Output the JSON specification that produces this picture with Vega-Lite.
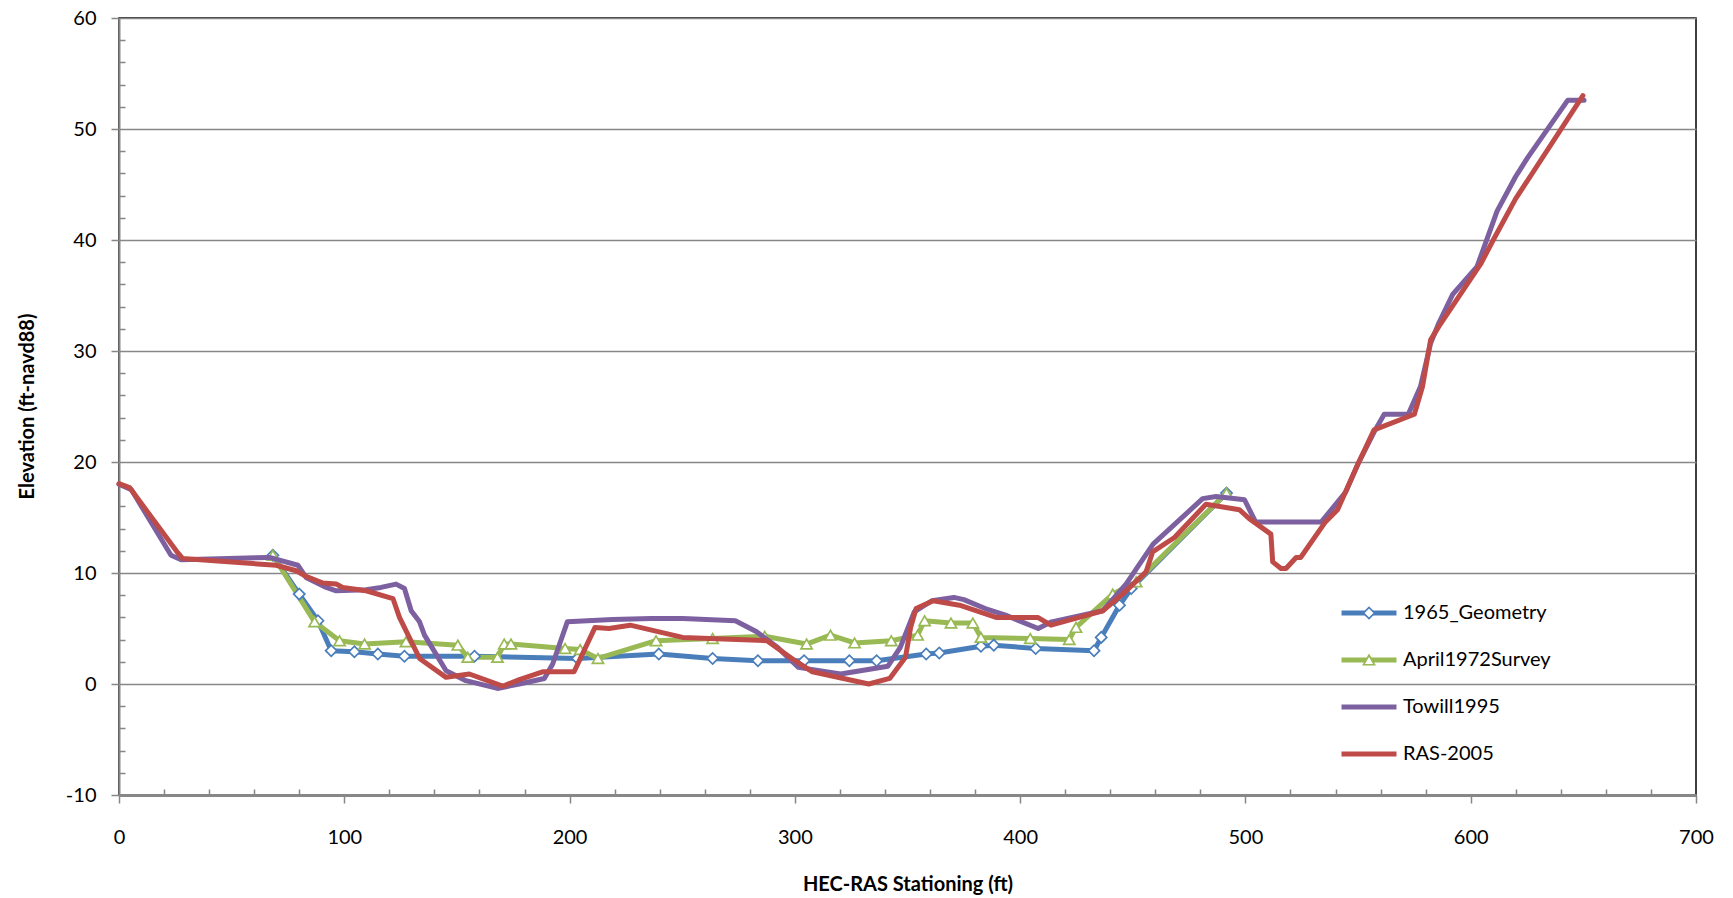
{
  "$schema": "https://vega.github.io/schema/vega-lite/v6.json",
  "width": 1577,
  "height": 777,
  "autosize": "none",
  "padding": {"left": 119, "top": 18, "right": 37, "bottom": 103},
  "config": {
    "view": {"stroke": "black", "strokeWidth": 1.5},
    "font": "Lato"
  },
  "data": {"values": [
    {"series":"1965_Geometry","station":68.3,"elevation":11.6},
    {"series":"1965_Geometry","station":80,"elevation":8.1},
    {"series":"1965_Geometry","station":88.3,"elevation":5.7},
    {"series":"1965_Geometry","station":94.2,"elevation":3.0},
    {"series":"1965_Geometry","station":104.5,"elevation":2.9},
    {"series":"1965_Geometry","station":114.9,"elevation":2.7},
    {"series":"1965_Geometry","station":126.7,"elevation":2.5},
    {"series":"1965_Geometry","station":157.8,"elevation":2.5},
    {"series":"1965_Geometry","station":203.5,"elevation":2.3},
    {"series":"1965_Geometry","station":239.6,"elevation":2.7},
    {"series":"1965_Geometry","station":263.5,"elevation":2.3},
    {"series":"1965_Geometry","station":283.6,"elevation":2.1},
    {"series":"1965_Geometry","station":304.1,"elevation":2.1},
    {"series":"1965_Geometry","station":324.2,"elevation":2.1},
    {"series":"1965_Geometry","station":336.3,"elevation":2.1},
    {"series":"1965_Geometry","station":358.3,"elevation":2.7},
    {"series":"1965_Geometry","station":364.1,"elevation":2.8},
    {"series":"1965_Geometry","station":382.6,"elevation":3.4},
    {"series":"1965_Geometry","station":388.3,"elevation":3.5},
    {"series":"1965_Geometry","station":406.9,"elevation":3.2},
    {"series":"1965_Geometry","station":432.8,"elevation":3.0},
    {"series":"1965_Geometry","station":436,"elevation":4.2},
    {"series":"1965_Geometry","station":444.1,"elevation":7.1},
    {"series":"1965_Geometry","station":449.3,"elevation":8.6},
    {"series":"1965_Geometry","station":491.6,"elevation":17.2},
    {"series":"April1972Survey","station":68.3,"elevation":11.6},
    {"series":"April1972Survey","station":86.8,"elevation":5.6},
    {"series":"April1972Survey","station":97.9,"elevation":3.9},
    {"series":"April1972Survey","station":109,"elevation":3.6},
    {"series":"April1972Survey","station":127.4,"elevation":3.8},
    {"series":"April1972Survey","station":150.4,"elevation":3.5},
    {"series":"April1972Survey","station":154.8,"elevation":2.4},
    {"series":"April1972Survey","station":168,"elevation":2.4},
    {"series":"April1972Survey","station":171,"elevation":3.6},
    {"series":"April1972Survey","station":174,"elevation":3.6},
    {"series":"April1972Survey","station":198,"elevation":3.2},
    {"series":"April1972Survey","station":204.7,"elevation":3.1},
    {"series":"April1972Survey","station":212.6,"elevation":2.3},
    {"series":"April1972Survey","station":238.4,"elevation":3.9},
    {"series":"April1972Survey","station":263.5,"elevation":4.1},
    {"series":"April1972Survey","station":286.6,"elevation":4.3},
    {"series":"April1972Survey","station":305.2,"elevation":3.6},
    {"series":"April1972Survey","station":315.8,"elevation":4.4},
    {"series":"April1972Survey","station":326.5,"elevation":3.7},
    {"series":"April1972Survey","station":342.8,"elevation":3.9},
    {"series":"April1972Survey","station":354.5,"elevation":4.4},
    {"series":"April1972Survey","station":357.6,"elevation":5.7},
    {"series":"April1972Survey","station":369.3,"elevation":5.5},
    {"series":"April1972Survey","station":379,"elevation":5.5},
    {"series":"April1972Survey","station":382.6,"elevation":4.2},
    {"series":"April1972Survey","station":404.5,"elevation":4.1},
    {"series":"April1972Survey","station":421.8,"elevation":4.0},
    {"series":"April1972Survey","station":424.8,"elevation":5.1},
    {"series":"April1972Survey","station":441.1,"elevation":8.1},
    {"series":"April1972Survey","station":451.5,"elevation":9.2},
    {"series":"April1972Survey","station":491.6,"elevation":17.2},
    {"series":"Towill1995","station":0,"elevation":18.0},
    {"series":"Towill1995","station":5.5,"elevation":17.5},
    {"series":"Towill1995","station":23.1,"elevation":11.6},
    {"series":"Towill1995","station":27.6,"elevation":11.2},
    {"series":"Towill1995","station":66.8,"elevation":11.4},
    {"series":"Towill1995","station":79.4,"elevation":10.7},
    {"series":"Towill1995","station":83,"elevation":9.6},
    {"series":"Towill1995","station":92,"elevation":8.7},
    {"series":"Towill1995","station":96.4,"elevation":8.4},
    {"series":"Towill1995","station":109.7,"elevation":8.5},
    {"series":"Towill1995","station":116.3,"elevation":8.7},
    {"series":"Towill1995","station":123,"elevation":9.0},
    {"series":"Towill1995","station":126.7,"elevation":8.6},
    {"series":"Towill1995","station":129.7,"elevation":6.6},
    {"series":"Towill1995","station":133.4,"elevation":5.6},
    {"series":"Towill1995","station":135.6,"elevation":4.4},
    {"series":"Towill1995","station":145.2,"elevation":1.2},
    {"series":"Towill1995","station":154,"elevation":0.3},
    {"series":"Towill1995","station":168,"elevation":-0.4},
    {"series":"Towill1995","station":177.7,"elevation":0.0},
    {"series":"Towill1995","station":188.8,"elevation":0.5},
    {"series":"Towill1995","station":192.5,"elevation":1.8},
    {"series":"Towill1995","station":199,"elevation":5.6},
    {"series":"Towill1995","station":219.1,"elevation":5.8},
    {"series":"Towill1995","station":236.2,"elevation":5.9},
    {"series":"Towill1995","station":250.2,"elevation":5.9},
    {"series":"Towill1995","station":273.6,"elevation":5.7},
    {"series":"Towill1995","station":283,"elevation":4.7},
    {"series":"Towill1995","station":292.3,"elevation":3.3},
    {"series":"Towill1995","station":301.6,"elevation":1.5},
    {"series":"Towill1995","station":320.3,"elevation":0.9},
    {"series":"Towill1995","station":341.3,"elevation":1.6},
    {"series":"Towill1995","station":346.8,"elevation":3.3},
    {"series":"Towill1995","station":353,"elevation":6.5},
    {"series":"Towill1995","station":360.8,"elevation":7.5},
    {"series":"Towill1995","station":370.6,"elevation":7.8},
    {"series":"Towill1995","station":375,"elevation":7.6},
    {"series":"Towill1995","station":384.5,"elevation":6.8},
    {"series":"Towill1995","station":393.5,"elevation":6.2},
    {"series":"Towill1995","station":408,"elevation":5.0},
    {"series":"Towill1995","station":414,"elevation":5.6},
    {"series":"Towill1995","station":436.7,"elevation":6.6},
    {"series":"Towill1995","station":447,"elevation":9.0},
    {"series":"Towill1995","station":459,"elevation":12.6},
    {"series":"Towill1995","station":481,"elevation":16.7},
    {"series":"Towill1995","station":487,"elevation":16.9},
    {"series":"Towill1995","station":499.6,"elevation":16.6},
    {"series":"Towill1995","station":504.5,"elevation":14.6},
    {"series":"Towill1995","station":533.7,"elevation":14.6},
    {"series":"Towill1995","station":544.5,"elevation":17.3},
    {"series":"Towill1995","station":549.9,"elevation":19.8},
    {"series":"Towill1995","station":557.1,"elevation":22.7},
    {"series":"Towill1995","station":561.6,"elevation":24.3},
    {"series":"Towill1995","station":572.3,"elevation":24.3},
    {"series":"Towill1995","station":577.7,"elevation":26.8},
    {"series":"Towill1995","station":582.2,"elevation":30.7},
    {"series":"Towill1995","station":585.8,"elevation":32.5},
    {"series":"Towill1995","station":592,"elevation":35.1},
    {"series":"Towill1995","station":602.8,"elevation":37.6},
    {"series":"Towill1995","station":611.7,"elevation":42.6},
    {"series":"Towill1995","station":619.9,"elevation":45.7},
    {"series":"Towill1995","station":625.2,"elevation":47.4},
    {"series":"Towill1995","station":643.1,"elevation":52.6},
    {"series":"Towill1995","station":650.3,"elevation":52.6},
    {"series":"RAS-2005","station":0,"elevation":18.05},
    {"series":"RAS-2005","station":4.7,"elevation":17.7},
    {"series":"RAS-2005","station":25.4,"elevation":12.0},
    {"series":"RAS-2005","station":28.3,"elevation":11.3},
    {"series":"RAS-2005","station":69.8,"elevation":10.7},
    {"series":"RAS-2005","station":78.6,"elevation":10.2},
    {"series":"RAS-2005","station":83,"elevation":9.7},
    {"series":"RAS-2005","station":90.5,"elevation":9.1},
    {"series":"RAS-2005","station":96.4,"elevation":9.0},
    {"series":"RAS-2005","station":99.3,"elevation":8.7},
    {"series":"RAS-2005","station":109.7,"elevation":8.4},
    {"series":"RAS-2005","station":121.6,"elevation":7.7},
    {"series":"RAS-2005","station":124.5,"elevation":6.0},
    {"series":"RAS-2005","station":133.4,"elevation":2.3},
    {"series":"RAS-2005","station":145.2,"elevation":0.6},
    {"series":"RAS-2005","station":155.5,"elevation":0.9},
    {"series":"RAS-2005","station":170.3,"elevation":-0.2},
    {"series":"RAS-2005","station":177.7,"elevation":0.4},
    {"series":"RAS-2005","station":188,"elevation":1.1},
    {"series":"RAS-2005","station":202,"elevation":1.1},
    {"series":"RAS-2005","station":211.3,"elevation":5.1},
    {"series":"RAS-2005","station":217.5,"elevation":5.0},
    {"series":"RAS-2005","station":226.9,"elevation":5.3},
    {"series":"RAS-2005","station":250.2,"elevation":4.2},
    {"series":"RAS-2005","station":287.6,"elevation":3.9},
    {"series":"RAS-2005","station":300.1,"elevation":2.1},
    {"series":"RAS-2005","station":307.8,"elevation":1.1},
    {"series":"RAS-2005","station":332.8,"elevation":0.0},
    {"series":"RAS-2005","station":342.1,"elevation":0.5},
    {"series":"RAS-2005","station":349.1,"elevation":2.4},
    {"series":"RAS-2005","station":351.4,"elevation":5.1},
    {"series":"RAS-2005","station":353.8,"elevation":6.8},
    {"series":"RAS-2005","station":361.4,"elevation":7.5},
    {"series":"RAS-2005","station":373.1,"elevation":7.1},
    {"series":"RAS-2005","station":389.3,"elevation":6.0},
    {"series":"RAS-2005","station":407.8,"elevation":6.0},
    {"series":"RAS-2005","station":413.7,"elevation":5.3},
    {"series":"RAS-2005","station":427.8,"elevation":6.1},
    {"series":"RAS-2005","station":436.7,"elevation":6.6},
    {"series":"RAS-2005","station":445.5,"elevation":8.1},
    {"series":"RAS-2005","station":455.9,"elevation":10.1},
    {"series":"RAS-2005","station":458.8,"elevation":11.9},
    {"series":"RAS-2005","station":468.5,"elevation":13.2},
    {"series":"RAS-2005","station":482.5,"elevation":16.2},
    {"series":"RAS-2005","station":497.3,"elevation":15.7},
    {"series":"RAS-2005","station":501.7,"elevation":14.9},
    {"series":"RAS-2005","station":511.3,"elevation":13.5},
    {"series":"RAS-2005","station":512.1,"elevation":11.0},
    {"series":"RAS-2005","station":515.8,"elevation":10.4},
    {"series":"RAS-2005","station":518,"elevation":10.4},
    {"series":"RAS-2005","station":522.5,"elevation":11.4},
    {"series":"RAS-2005","station":524.5,"elevation":11.4},
    {"series":"RAS-2005","station":535.5,"elevation":14.6},
    {"series":"RAS-2005","station":540.9,"elevation":15.7},
    {"series":"RAS-2005","station":549.9,"elevation":19.8},
    {"series":"RAS-2005","station":557.1,"elevation":22.9},
    {"series":"RAS-2005","station":575,"elevation":24.3},
    {"series":"RAS-2005","station":578.6,"elevation":26.8},
    {"series":"RAS-2005","station":582.2,"elevation":31.0},
    {"series":"RAS-2005","station":585.8,"elevation":32.2},
    {"series":"RAS-2005","station":604.6,"elevation":37.9},
    {"series":"RAS-2005","station":610,"elevation":40.0},
    {"series":"RAS-2005","station":619.9,"elevation":43.7},
    {"series":"RAS-2005","station":649.8,"elevation":53.0}
  ]},
  "resolve": {
    "scale": {"color": "independent", "stroke": "independent", "shape": "independent"},
    "axis": {"x": "independent", "y": "independent"}
  },
  "layer": [
    {
      "transform": [{"filter": {"field": "series", "oneOf": ["1965_Geometry", "April1972Survey"]}}],
      "mark": {"type": "line", "strokeWidth": 5, "strokeJoin": "round", "strokeCap": "round"},
      "encoding": {
        "x": {"field": "station", "type": "quantitative",
          "scale": {"domain": [0, 700], "nice": false, "zero": false},
          "axis": {"orient": "bottom", "values": [0, 100, 200, 300, 400, 500, 600, 700],
            "labelFlush": false, "labelOverlap": false,
            "title": "HEC-RAS Stationing (ft)", "titleFont": "Lato", "titleFontSize": 20, "titleFontWeight": "bold", "titleColor": "black",
            "titleY": 89, "titleBaseline": "middle",
            "labelFont": "Lato", "labelFontSize": 20, "labelColor": "black", "labelPadding": 24,
            "tickSize": 8, "tickColor": "#878787", "tickWidth": 1.5,
            "domainColor": "#878787", "domainWidth": 3, "grid": false}},
        "y": {"field": "elevation", "type": "quantitative",
          "scale": {"domain": [-10, 60], "nice": false, "zero": false},
          "axis": {"orient": "left", "values": [-10, 0, 10, 20, 30, 40, 50, 60],
            "labelFlush": false, "labelOverlap": false,
            "labelExpr": "'' + datum.value",
            "title": "Elevation (ft-navd88)", "titleFont": "Lato", "titleFontSize": 20, "titleFontWeight": "bold", "titleColor": "black",
            "titleX": -92, "titleY": 388, "titleAngle": 270, "titleBaseline": "middle", "titleAlign": "center",
            "labelFont": "Lato", "labelFontSize": 20, "labelColor": "black", "labelPadding": 15,
            "tickSize": 8, "tickColor": "#878787", "tickWidth": 1.5,
            "domainColor": "#878787", "domainWidth": 2,
            "grid": true, "gridColor": "#878787", "gridWidth": 1.5}},
        "color": {"field": "series", "type": "nominal",
          "scale": {"domain": ["1965_Geometry", "April1972Survey", "Towill1995", "RAS-2005"], "range": ["#4A7EBB", "#98B954", "#7D60A0", "#BE4B48"]},
          "legend": {"orient": "none", "legendX": 1240, "legendY": 585, "title": null,
            "symbolType": "M-5,0L5,0", "symbolSize": 121, "symbolStrokeWidth": 5,
            "labelFont": "Lato", "labelFontSize": 20, "labelColor": "black", "labelOffset": 24, "rowPadding": 27}}
      }
    },
    {
      "transform": [{"filter": {"field": "series", "oneOf": ["1965_Geometry", "April1972Survey"]}}],
      "mark": {"type": "point", "filled": false, "fill": "white", "fillOpacity": 1, "size": 125, "strokeWidth": 1.7, "opacity": 1},
      "encoding": {
        "x": {"field": "station", "type": "quantitative",
          "scale": {"domain": [0, 700], "nice": false, "zero": false},
          "axis": {"orient": "bottom", "values": [20, 40, 60, 80, 120, 140, 160, 180, 220, 240, 260, 280, 320, 340, 360, 380, 420, 440, 460, 480, 520, 540, 560, 580, 620, 640, 660, 680],
            "labels": false, "domain": false, "grid": false, "title": null,
            "tickSize": -6, "tickColor": "#878787", "tickWidth": 1.5}},
        "y": {"field": "elevation", "type": "quantitative",
          "scale": {"domain": [-10, 60], "nice": false, "zero": false},
          "axis": {"orient": "left", "values": [-8, -6, -4, -2, 2, 4, 6, 8, 12, 14, 16, 18, 22, 24, 26, 28, 32, 34, 36, 38, 42, 44, 46, 48, 52, 54, 56, 58],
            "labels": false, "domain": false, "grid": false, "title": null,
            "tickSize": -6, "tickColor": "#878787", "tickWidth": 1.5}},
        "stroke": {"field": "series", "type": "nominal",
          "scale": {"domain": ["1965_Geometry", "April1972Survey", "Towill1995", "RAS-2005"], "range": ["#4A7EBB", "#98B954", "#7D60A0", "#BE4B48"]},
          "legend": {"orient": "none", "legendX": 1240, "legendY": 585, "title": null,
            "symbolSize": 121, "symbolStrokeWidth": 1.7, "symbolFillColor": "white", "symbolOpacity": 1,
            "labelFont": "Lato", "labelFontSize": 20, "labelOpacity": 0, "labelOffset": 24, "rowPadding": 27}},
        "shape": {"field": "series", "type": "nominal",
          "scale": {"domain": ["1965_Geometry", "April1972Survey", "Towill1995", "RAS-2005"], "range": ["diamond", "triangle-up", "M0,0", "M0,0"]},
          "legend": {"orient": "none", "legendX": 1240, "legendY": 585, "title": null,
            "symbolSize": 121, "symbolStrokeWidth": 1.7, "symbolFillColor": "white", "symbolOpacity": 1,
            "labelFont": "Lato", "labelFontSize": 20, "labelOpacity": 0, "labelOffset": 24, "rowPadding": 27}}
      }
    },
    {
      "transform": [{"filter": {"field": "series", "oneOf": ["Towill1995", "RAS-2005"]}}],
      "mark": {"type": "line", "strokeWidth": 5, "strokeJoin": "round", "strokeCap": "round"},
      "encoding": {
        "x": {"field": "station", "type": "quantitative",
          "scale": {"domain": [0, 700], "nice": false, "zero": false}, "axis": null},
        "y": {"field": "elevation", "type": "quantitative",
          "scale": {"domain": [-10, 60], "nice": false, "zero": false}, "axis": null},
        "color": {"field": "series", "type": "nominal",
          "scale": {"domain": ["1965_Geometry", "April1972Survey", "Towill1995", "RAS-2005"], "range": ["#4A7EBB", "#98B954", "#7D60A0", "#BE4B48"]},
          "legend": null}
      }
    }
  ]
}
